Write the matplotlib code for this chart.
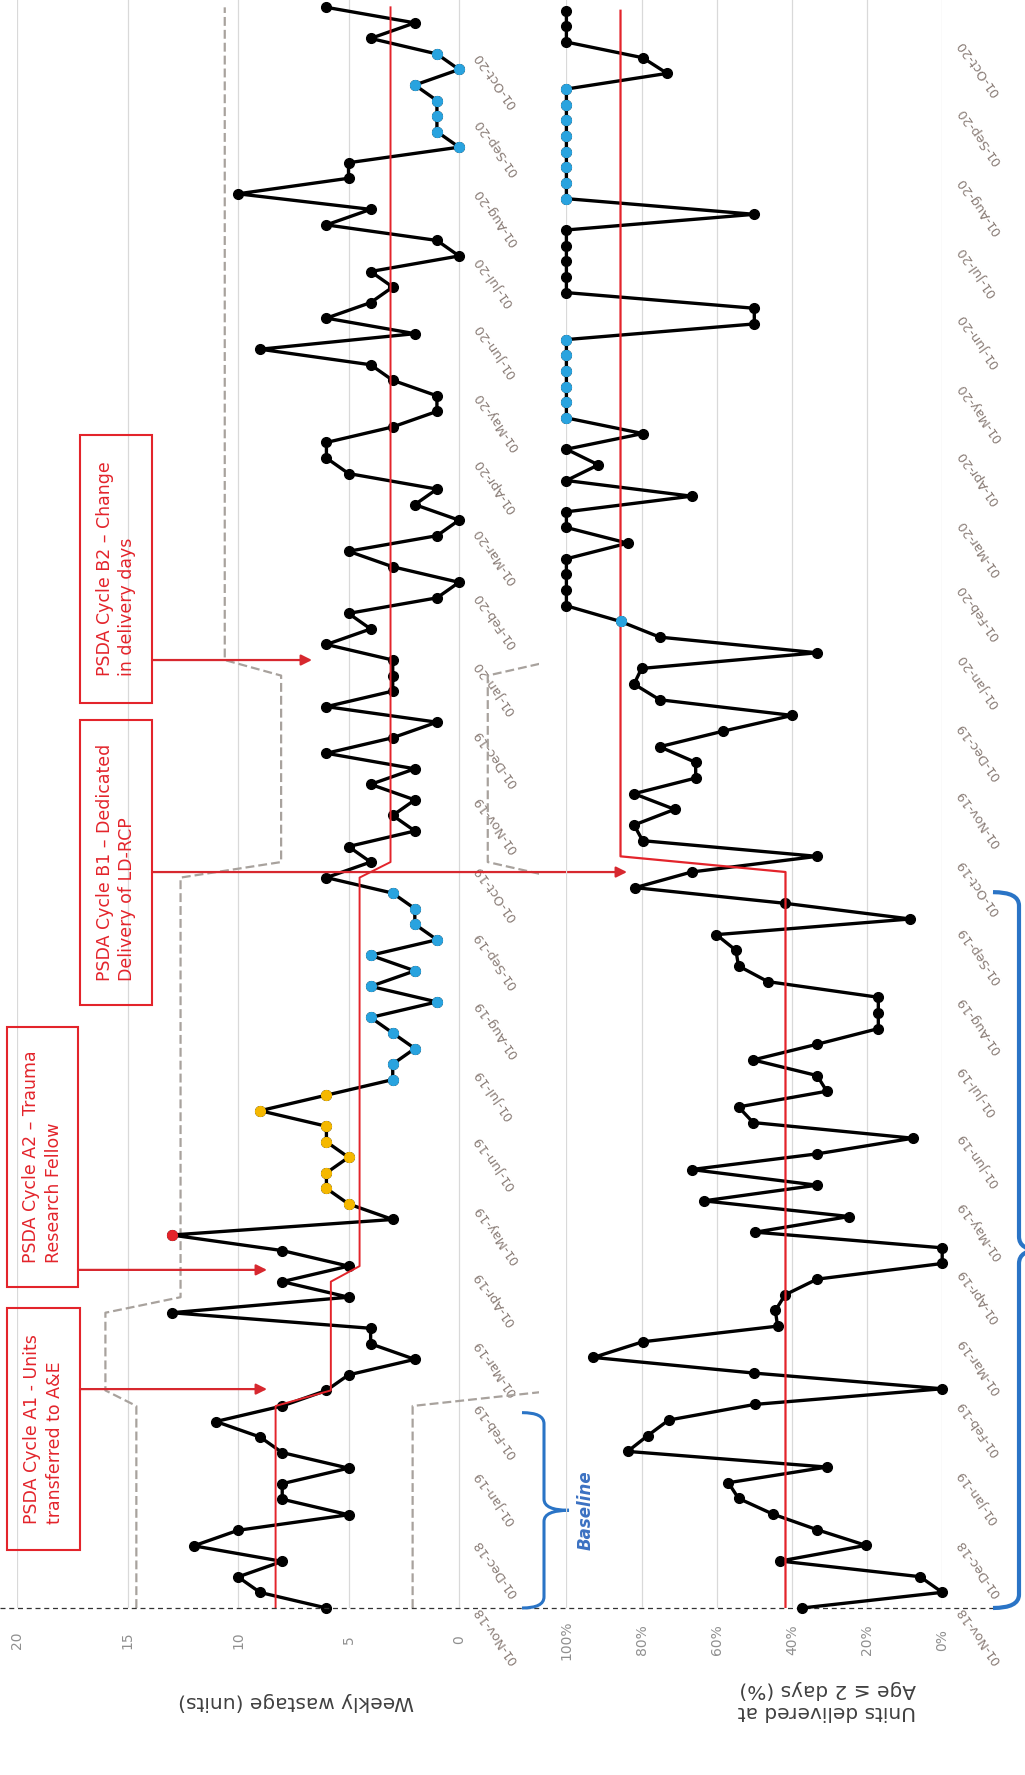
import datetime as dt
import numpy as np
import matplotlib
matplotlib.use("Agg")
import matplotlib.pyplot as plt
import matplotlib.dates as mdates
from matplotlib.patches import Rectangle, FancyArrowPatch, PathPatch
from matplotlib.path import Path
from matplotlib.transforms import blended_transform_factory

plt.rcParams['font.family'] = ['DejaVu Sans']

# ---- data (one value per week, starting 01-Nov-18) ----
start = dt.datetime(2018, 11, 1)

wastage = [6, 9, 10, 8, 12, 10, 5, 8, 8, 5, 8, 9, 11, 8,
           6, 5, 2, 4, 4, 13, 5, 8,
           5, 8, 13, 3, 5, 6, 6, 5, 6, 6, 9, 6,
           3, 3, 2, 3, 4, 1, 4, 2, 4, 1, 2, 2, 3, 6,
           4, 5, 2, 3, 2, 4, 2, 6, 3, 1, 6, 3, 3, 3,
           6, 4, 5, 1, 0, 3, 5, 1, 0, 2, 1, 5, 6, 6,
           3, 1, 1, 3, 4, 9, 2, 6, 4, 3, 4, 0, 1, 6,
           4, 10, 5, 5, 0, 1, 1, 1, 2, 0, 1, 4, 2, 6]

pct_young = [37.3, 0, 5.9, 43.1, 20.3, 33.3, 45.1, 54.2, 56.9, 30.7, 83.7, 78.4, 72.8, 49.9,
             0, 50, 92.8, 79.7, 43.8, 44.4, 41.8, 33.3, 0, 0, 49.7, 24.8, 63.4, 33.3,
             66.7, 33.3, 7.8, 50.3, 54.2, 30.7, 33.3, 50.3, 33.3, 17, 17, 17, 46.4, 54.2,
             54.9, 60.1, 8.5, 41.8, 81.7, 66.7, 33.3, 79.7, 82, 71.2, 82, 65.6, 65.6, 75.2,
             58.2, 39.9, 75.2, 82, 80, 33.3, 75.2, 85.6, 100, 100, 100, 100, 83.7, 100,
             100, 66.7, 100, 91.5, 100, 79.7, 100, 100, 100, 100, 100, 100, 50, 50,
             100, 100, 100, 100, 100, 50, 100, 100, 100, 100, 100, 100, 100, 100,
             73.2, 79.7, 100, 100, 100]

# highlighted weeks
w_red_idx = [24]
w_yellow_idx = list(range(26, 34))
w_blue_idx = list(range(34, 47)) + list(range(94, 101))
p_blue_idx = [63] + list(range(76, 82)) + list(range(90, 98))

# phase means and control limits (week where each level starts)
w_mean_start = [0, 14, 22, 48]
w_mean_level = [8.3, 5.8, 4.5, 3.1]
w_ucl_start = [0, 14, 20, 48, 61]
w_ucl_level = [14.6, 16.0, 12.6, 8.05, 10.6]
w_lcl_start = [0, 14, 48, 61]
w_lcl_level = [2.1, -4.4, -1.3, -4.4]
p_mean_start = [0, 48]
p_mean_level = [41.7, 85.6]

w_ticks = [20, 15, 10, 5, 0]
p_ticks = [100, 80, 60, 40, 20, 0]

notes = [
    ("PSDA Cycle A1 - Units\ntransferred to A&E", (7, 1308, 80, 1550), 98.6, 267),
    ("PSDA Cycle A2 \u2013 Trauma\nResearch Fellow", (7, 1027, 78, 1287), 152.3, 267),
    ("PSDA Cycle B1 \u2013 Dedicated\nDelivery of LD-RCP", (80, 720, 152, 1005), 331.5, 627),
    ("PSDA Cycle B2 \u2013 Change\nin delivery days", (80, 435, 152, 703), 427.0, 312),
]

# ---- helpers ----
W, H = 1025, 1775
RED = '#e3242b'
BLUE = '#2a74c6'


def fx(px):
    return px / W


def fy(py):
    return 1 - py / H


def steps(starts, levels, n):
    out = np.empty(n)
    for s, lv in zip(starts, levels):
        out[s:] = lv
    return out


nw, npct = len(wastage), len(pct_young)
w_dates = np.array([start + dt.timedelta(weeks=i) for i in range(nw)])
p_dates = np.array([start + dt.timedelta(weeks=i) for i in range(npct)])
w_arr = np.array(wastage, dtype=float)
p_arr = np.array(pct_young, dtype=float)

fig = plt.figure(figsize=(W / 100, H / 100), dpi=100)
fig.patch.set_facecolor('white')

ax1 = fig.add_axes([fx(17), fy(1608), (538.6 - 17) / W, 1608 / H])
ax2 = fig.add_axes([fx(566.4), fy(1608), (942.2 - 566.4) / W, 1608 / H])

# wastage panel
ax1.plot(steps(w_ucl_start, w_ucl_level, nw), w_dates, color='#a8a29d', lw=1.6,
         dashes=(4, 1.8), zorder=2)
ax1.plot(steps(w_lcl_start, w_lcl_level, nw), w_dates, color='#a8a29d', lw=1.6,
         dashes=(4, 1.8), zorder=2)
ax1.plot(w_arr, w_dates, color='black', lw=2.4, marker='o', ms=7, zorder=4, clip_on=False)
ax1.plot(steps(w_mean_start, w_mean_level, nw), w_dates, color=RED, lw=1.4, zorder=5)
ax1.plot(w_arr[w_yellow_idx], w_dates[w_yellow_idx], 'o', color='#f5b800', ms=7, zorder=6, clip_on=False)
ax1.plot(w_arr[w_blue_idx], w_dates[w_blue_idx], 'o', color='#29a3df', ms=7, zorder=6, clip_on=False)
ax1.plot(w_arr[w_red_idx], w_dates[w_red_idx], 'o', color=RED, ms=7, zorder=6, clip_on=False)
ax1.set_xlim(20, -3.6)
ax1.set_ylim(start, start + dt.timedelta(days=724.3))
ax1.set_xticks(w_ticks)
ax1.set_xticklabels([str(t) for t in w_ticks])
ax1.spines['right'].set_position(('data', 0))

# percent panel
ax2.plot(p_arr, p_dates, color='black', lw=2.4, marker='o', ms=7, zorder=4, clip_on=False)
ax2.plot(steps(p_mean_start, p_mean_level, npct), p_dates, color=RED, lw=1.6, zorder=5)
ax2.plot(p_arr[p_blue_idx], p_dates[p_blue_idx], 'o', color='#29a3df', ms=7, zorder=6, clip_on=False)
ax2.set_xlim(100, 0)
ax2.set_ylim(start, start + dt.timedelta(days=718.8))
ax2.set_xticks(p_ticks)
ax2.set_xticklabels([f'{t}%' for t in p_ticks])

for ax in (ax1, ax2):
    ax.set_facecolor('none')
    for sp in ax.spines.values():
        sp.set_visible(False)
    ax.grid(axis='x', color='#d9d9d9', lw=0.9)
    ax.set_axisbelow(True)
    ax.yaxis.set_major_locator(mdates.MonthLocator())
    ax.yaxis.set_major_formatter(mdates.DateFormatter('%d-%b-%y'))
    ax.yaxis.tick_right()
    ax.tick_params(axis='y', length=0, pad=13, labelsize=9.3, labelcolor='#8a7d77')
    ax.tick_params(axis='x', length=0, pad=23, labelsize=10, labelcolor='#8f8f8f')

fig.canvas.draw()
for ax in (ax1, ax2):
    plt.setp(ax.get_yticklabels(), rotation=125, ha='right', va='center', rotation_mode='anchor')
    plt.setp(ax.get_xticklabels(), rotation=90, ha='center', va='center', rotation_mode='anchor')

# start-of-data dashed line across both panels
tr1 = blended_transform_factory(fig.transFigure, ax1.transData)
tr2 = blended_transform_factory(fig.transFigure, ax2.transData)
d0 = mdates.date2num(start)
ax1.plot([0, fx(995)], [d0, d0], transform=tr1, color='#333333', lw=0.9,
         ls=(0, (4, 3)), clip_on=False, zorder=7)


def brace(ax, tr, day0, day1, x_end, x_spine, x_tip, r, lw):
    y0, y1 = d0 + day0, d0 + day1
    ym = (y0 + y1) / 2
    xe, xs, xt = fx(x_end), fx(x_spine), fx(x_tip)
    verts = [(xe, y0), (xs, y0), (xs, y0 + r), (xs, ym - r), (xs, ym), (xt, ym),
             (xs, ym), (xs, ym + r), (xs, y1 - r), (xs, y1), (xe, y1)]
    codes = [Path.MOVETO, Path.CURVE3, Path.CURVE3, Path.LINETO, Path.CURVE3, Path.CURVE3,
             Path.CURVE3, Path.CURVE3, Path.LINETO, Path.CURVE3, Path.CURVE3]
    ax.add_patch(PathPatch(Path(verts, codes), transform=tr, fill=False, ec=BLUE,
                           lw=lw, clip_on=False, zorder=7))


brace(ax1, tr1, 0, 88, 522, 544, 569, 5, 2.2)
ax1.text(fx(586), d0 + 44, 'Baseline', transform=tr1, rotation=90, ha='center', va='center',
         fontsize=12, fontweight='bold', fontstyle='italic', color='#3b71c2')
brace(ax2, tr2, 0, 320, 993, 1019, 1040, 6, 3)

# PDSA annotation boxes and arrows
for text, (x0, y0, x1, y1), day, x_head in notes:
    fig.add_artist(Rectangle((fx(x0), fy(y1)), (x1 - x0) / W, (y1 - y0) / H,
                             transform=fig.transFigure, fill=False, ec=RED, lw=1.5))
    fig.text(fx((x0 + x1) / 2), fy((y0 + y1) / 2), text, rotation=90, ha='center',
             va='center', multialignment='left', color=RED, fontsize=12.5, linespacing=1.35)
    arr = FancyArrowPatch((fx(x1), d0 + day), (fx(x_head), d0 + day), transform=tr1,
                          arrowstyle='-|>', mutation_scale=16, color='#d7282f', lw=1.6,
                          shrinkA=0, shrinkB=0, clip_on=False, zorder=8)
    ax1.add_patch(arr)

# axis titles (upside down, as in the rotated original)
fig.text(fx(296), fy(1702), 'Weekly wastage (units)', rotation=180, ha='center',
         va='center', fontsize=14.5, color='#404040')
fig.text(fx(827), fy(1701), 'Units delivered at\nAge \u2264 2 days (%)', rotation=180,
         ha='center', va='center', multialignment='left', fontsize=14.5, color='#404040')

fig.savefig('out.png', dpi=100)
